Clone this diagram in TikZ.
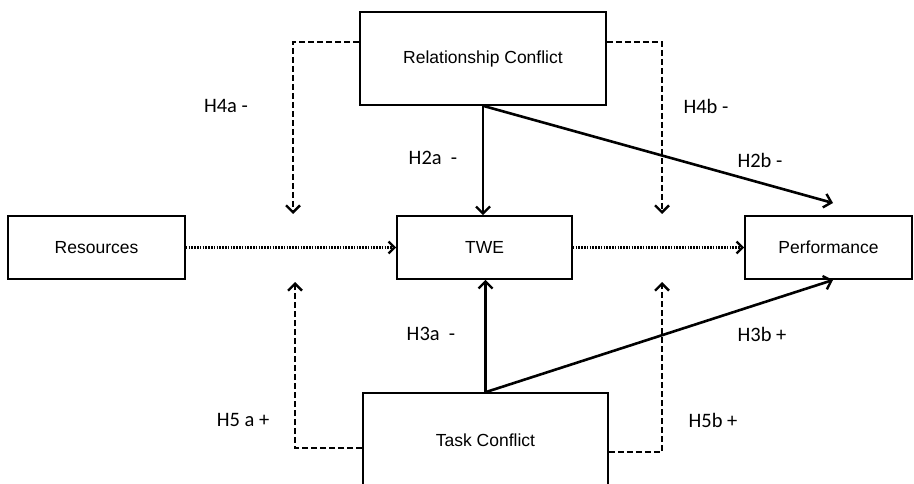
\documentclass[tikz,border=0pt]{standalone}
\usepackage{fontspec}
\setmainfont{Liberation Sans}
\newfontfamily\lblfont{Carlito}
\usetikzlibrary{arrows.meta,positioning}

\begin{document}
\begin{tikzpicture}[x=1pt,y=-1pt,
	box/.style={draw, line width=1.6pt, inner sep=0pt, font=\fontsize{17.5}{20}\selectfont},
	lbl/.style={font=\lblfont\fontsize{20.5}{24}\selectfont, inner sep=0pt},
	eff/.style={line width=2.6pt, -{Straight Barb[length=7pt,width=14pt,line width=2.4pt]}},
	mod/.style={line width=2.6pt, dash pattern=on 6pt off 3pt, -{Straight Barb[length=7pt,width=14pt,line width=2.4pt]}},
	med/.style={line width=2.8pt, dash pattern=on 1.5pt off 1.3pt, -{Straight Barb[length=6pt,width=12pt,line width=2.4pt]}}]
			\clip (0,0) rectangle (914,484);
			\useasboundingbox (0,0) rectangle (914,484);
			% boxes
			\node[box, minimum width=177pt, minimum height=63pt] (res) at (96.5,247.5) {Resources};
			\node[box, minimum width=175pt, minimum height=63pt] (twe) at (484.5,247.5) {TWE};
			\node[box, minimum width=167pt, minimum height=63pt] (perf) at (828.5,247.5) {Performance};
			\node[box, minimum width=246pt, minimum height=93pt] (rc) at (483,58.5) {Relationship Conflict};
			\node[box, minimum width=245pt, minimum height=94pt] (tc) at (485.5,440) {Task Conflict};
			% free arrow ends
			\coordinate (h2bend) at (833,203);
			\coordinate (h3bend) at (833,280);
			\coordinate (h4aend) at (293,214);
			\coordinate (h4bend) at (662,214);
			\coordinate (h5aend) at (295,282);
			\coordinate (h5bend) at (662,282);
			% mediation
			\draw[med] (res.east) -- (twe.west);
			\draw[med] (twe.east) -- (perf.west);
			% direct effects
			\draw[eff] (rc.south) -- (rc.south |- twe.north);
			\draw[eff] (rc.south) -- (h2bend);
			\draw[eff] (tc.north) -- (tc.north |- twe.south);
			\draw[eff] (tc.north) -- (h3bend);
			% moderation
			\draw[mod] ([yshift=16.5pt]rc.west) -| (h4aend);
			\draw[mod] ([yshift=16.5pt]rc.east) -| (h4bend);
			\draw[mod] ([yshift=-8pt]tc.west) -| (h5aend);
			\draw[mod] ([yshift=-12pt]tc.east) -| (h5bend);
			% labels
			\node[lbl] (h4a) at (226,106) {H4a -};
			\node[lbl] (h4b) at (706,106) {H4b -};
			\node[lbl] (h2a) at (433,158) {H2a\ \ -};
			\node[lbl] (h2b) at (760,160) {H2b -};
			\node[lbl] (h3a) at (431,334) {H3a\ \ -};
			\node[lbl] (h3b) at (762,334) {H3b +};
			\node[lbl] (h5a) at (243,420) {H5 a +};
			\node[lbl] (h5b) at (713,420) {H5b +};
		\end{tikzpicture}
\end{document}
